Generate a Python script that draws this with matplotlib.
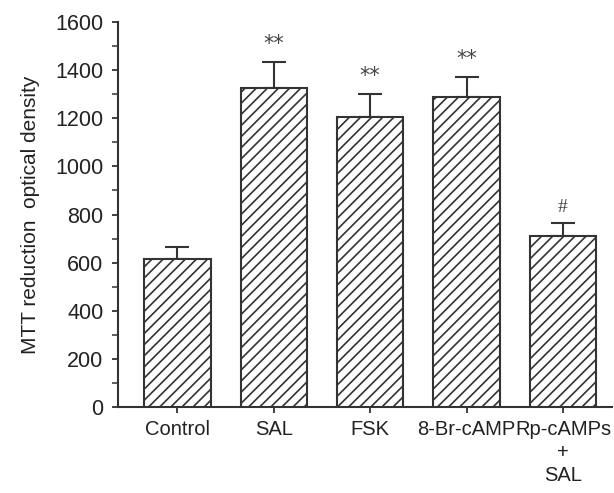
import matplotlib.pyplot as plt
import numpy as np

groups = ['Control', 'SAL', 'FSK', '8-Br-cAMP', 'Rp-cAMPs\n+\nSAL']
means = [615, 1325, 1204, 1290, 711]
errs = [50, 107, 97, 82, 55]
marks = ['', '**', '**', '**', '#']

plt.rcParams['font.family'] = ['Liberation Sans', 'DejaVu Sans']
plt.rcParams['hatch.linewidth'] = 1.2
plt.rcParams['hatch.color'] = '#222222'

fig = plt.figure(figsize=(6.14, 4.93), dpi=100)
ax = fig.add_axes([0.192, 0.1744, 0.805, 0.781])

x = np.arange(len(groups))
ax.bar(x, means, width=0.69, color='white', edgecolor='#333333',
       linewidth=1.5, hatch='///', zorder=3)
ax.errorbar(x, means, yerr=[np.zeros(len(errs)), errs], fmt='none',
            ecolor='#333333', elinewidth=1.5, capsize=8.6, capthick=1.5, zorder=2)

for xi, m, e, s in zip(x, means, errs, marks):
    if s == '**':
        ax.text(xi, m + e + 75, s, ha='center', va='center', fontsize=15,
                family='DejaVu Sans', color='#444444')
    elif s:
        ax.text(xi, m + e + 62, s, ha='center', va='center', fontsize=14,
                family='Liberation Serif', color='#444444')

ax.set_xlim(-0.617, 4.51)
ax.set_ylim(0, 1600)
ax.set_yticks(np.arange(0, 1601, 200))
ax.set_yticks(np.arange(100, 1600, 200), minor=True)
ax.set_xticks(x)
ax.set_xticklabels(groups, fontsize=14.5, linespacing=1.25, color='#222222')
ax.tick_params(axis='y', labelsize=15.5, labelcolor='#222222', length=4.5,
               width=1.3, pad=6, color='#333333')
ax.tick_params(axis='y', which='minor', length=4.5, width=1.1, color='#333333')
ax.tick_params(axis='x', length=4.5, width=1.3, pad=5, color='#333333')
ax.set_ylabel('MTT reduction  optical density', fontsize=15, color='#222222', labelpad=11)

for side in ['top', 'right']:
    ax.spines[side].set_visible(False)
for side in ['left', 'bottom']:
    ax.spines[side].set_linewidth(1.5)
    ax.spines[side].set_color('#333333')

plt.savefig('out.png', dpi=100)
